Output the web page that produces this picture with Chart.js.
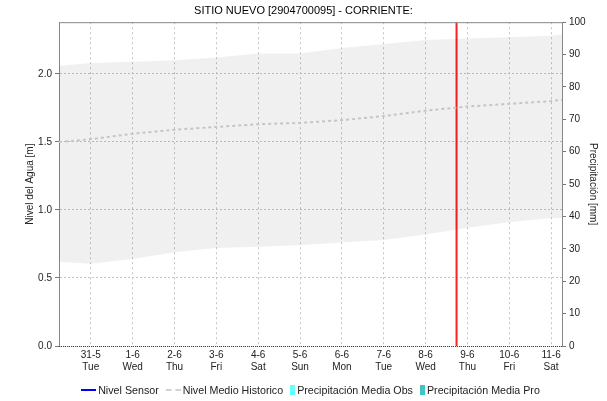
<!DOCTYPE html>
<html>
<head>
<meta charset="utf-8">
<script src="https://cdn.jsdelivr.net/npm/chart.js@4/dist/chart.umd.min.js"></script>
<style>
    body { margin: 0; background: #fff; }
    #wrap { position: relative; width: 607px; height: 401px; }
    #legend {
        position: absolute; left: 0; top: 382px; width: 620px; height: 16px;
        text-align: center; white-space: nowrap;
        font: 10.7px "Liberation Sans", Arial, sans-serif; color: #222; line-height: 16px;
    }
    .item { display: inline-block; margin: 0 3px 0 4px; }
    .mark { display: inline-block; vertical-align: middle; margin-right: 2px; position: relative; top: -1px; }
</style>
</head>
<body>
<div id="wrap">
    <canvas id="chart" width="607" height="401"></canvas>
    <div id="legend"></div>
</div>
<script>
const titleText = "SITIO NUEVO [2904700095] - CORRIENTE:";

// x in days, 0 = 31-5
const dayLabels = ["31-5", "1-6", "2-6", "3-6", "4-6", "5-6", "6-6", "7-6", "8-6", "9-6", "10-6", "11-6"];
const weekDays = ["Tue", "Wed", "Thu", "Fri", "Sat", "Sun", "Mon", "Tue", "Wed", "Thu", "Fri", "Sat"];

const days = [-0.76, 0, 1, 2, 3, 4, 5, 6, 7, 8, 9, 10, 11, 11.26];
const histUpper = [2.06, 2.08, 2.09, 2.10, 2.12, 2.15, 2.15, 2.19, 2.22, 2.25, 2.26, 2.27, 2.28, 2.29];
const histLower = [0.62, 0.605, 0.64, 0.69, 0.72, 0.73, 0.74, 0.76, 0.78, 0.82, 0.87, 0.91, 0.94, 0.94];
const histMean = [1.50, 1.52, 1.56, 1.59, 1.61, 1.63, 1.64, 1.66, 1.69, 1.73, 1.76, 1.78, 1.80, 1.81];

const sensorLevel = [];
const precipObs = [];
const precipPro = [];

const currentDay = 8.74;
const levelMax = 2.38;
const precipMax = 100;

function toPoints(values) {
    return values.map((v, i) => ({ x: days[i], y: v }));
}

const font = "'Liberation Sans', Arial, sans-serif";

// top line of the box and the dotted bottom axis line
const frame = {
    id: "frame",
    afterDatasetsDraw(chart) {
        const { ctx, chartArea } = chart;
        ctx.save();
        ctx.lineWidth = 1;
        ctx.strokeStyle = "#888";
        ctx.beginPath();
        ctx.moveTo(chartArea.left, chartArea.top + 0.5);
        ctx.lineTo(chartArea.right, chartArea.top + 0.5);
        ctx.stroke();
        ctx.strokeStyle = "#444";
        ctx.setLineDash([1, 1]);
        ctx.beginPath();
        ctx.moveTo(chartArea.left, chartArea.bottom + 0.5);
        ctx.lineTo(chartArea.right, chartArea.bottom + 0.5);
        ctx.stroke();
        ctx.restore();
    }
};

const datasets = [
    {
        type: "line", label: "hist-low", data: toPoints(histLower), yAxisID: "y",
        borderWidth: 0, pointRadius: 0, fill: false, borderColor: "rgba(0,0,0,0)"
    },
    {
        type: "line", label: "hist-high", data: toPoints(histUpper), yAxisID: "y",
        borderWidth: 0, pointRadius: 0, fill: "-1", borderColor: "rgba(0,0,0,0)",
        backgroundColor: "rgba(0,0,0,0.06)"
    },
    {
        type: "line", label: "Nivel Sensor", data: sensorLevel, yAxisID: "y",
        borderColor: "#0000ff", borderWidth: 1.5, pointRadius: 0,
        legendMark: { w: 15, h: 2, color: "#0000ff" }
    },
    {
        type: "line", label: "Nivel Medio Historico", data: toPoints(histMean), yAxisID: "y",
        borderColor: "#d2d2d2", borderWidth: 2, borderDash: [3, 3], pointRadius: 0, fill: false,
        legendMark: { w: 15, h: 2, color: "#d2d2d2", dashed: true }
    },
    {
        type: "bar", label: "Precipitación Media Obs", data: precipObs, yAxisID: "y1",
        backgroundColor: "#66ffff",
        legendMark: { w: 5, h: 10, color: "#66ffff" }
    },
    {
        type: "bar", label: "Precipitación Media Pro", data: precipPro, yAxisID: "y1",
        backgroundColor: "#40c4c4",
        legendMark: { w: 5, h: 10, color: "#40c4c4" }
    },
    {
        type: "line", label: "now", data: [{ x: currentDay, y: 0 }, { x: currentDay, y: levelMax }],
        yAxisID: "y", borderColor: "#ff2020", borderWidth: 2, pointRadius: 0
    },
    {
        type: "line", label: "now-dash", data: [{ x: currentDay, y: 0 }, { x: currentDay, y: levelMax }],
        yAxisID: "y", borderColor: "#b00000", borderWidth: 1, borderDash: [2, 3], pointRadius: 0
    }
];

const chart = new Chart(document.getElementById("chart"), {
    data: { datasets: datasets },
    options: {
        responsive: false,
        animation: false,
        layout: { padding: { left: 0, right: 0, top: 0, bottom: 30 } },
        plugins: {
            legend: { display: false },
            tooltip: { enabled: false },
            title: {
                display: true,
                text: titleText,
                color: "#000",
                font: { family: font, size: 11, weight: "normal" },
                padding: { top: 4, bottom: 5 }
            }
        },
        scales: {
            x: {
                type: "linear",
                offset: false,
                min: days[0],
                max: days[days.length - 1],
                afterFit: scale => { scale.height = 25; },
                afterBuildTicks: scale => {
                    scale.ticks = dayLabels.map((_, i) => ({ value: i }));
                },
                ticks: {
                    autoSkip: false,
                    maxRotation: 0,
                    padding: 3,
                    color: "#222",
                    font: { family: font, size: 10 },
                    callback: value => [dayLabels[value], weekDays[value]]
                },
                grid: {
                    offset: false,
                    color: "#c4c4c4",
                    tickLength: 0
                },
                border: { display: false, dash: [2, 3] }
            },
            y: {
                position: "left",
                min: 0,
                max: levelMax,
                afterFit: scale => { scale.width = 59; },
                ticks: {
                    stepSize: 0.5,
                    includeBounds: false,
                    padding: 3,
                    color: "#222",
                    font: { family: font, size: 10 },
                    callback: value => value.toFixed(1)
                },
                grid: {
                    color: "#c4c4c4",
                    tickLength: 4,
                    tickColor: "#777",
                    tickBorderDash: []
                },
                border: { color: "#888", dash: [2, 2] },
                title: {
                    display: true,
                    text: "Nivel del Agua [m]",
                    color: "#222",
                    font: { family: font, size: 10 },
                    padding: { top: 24, bottom: 0 }
                }
            },
            y1: {
                position: "right",
                min: 0,
                max: precipMax,
                afterFit: scale => { scale.width = 45; },
                ticks: {
                    stepSize: 10,
                    padding: 3,
                    color: "#222",
                    font: { family: font, size: 10 }
                },
                grid: {
                    drawOnChartArea: false,
                    tickLength: 4,
                    tickColor: "#777"
                },
                border: { color: "#888" },
                title: {
                    display: true,
                    text: "Precipitación [mm]",
                    color: "#222",
                    font: { family: font, size: 10 },
                    padding: { top: 8, bottom: 0 }
                }
            }
        }
    },
    plugins: [frame]
});

function buildLegend(chart) {
    const box = document.getElementById("legend");
    chart.data.datasets.filter(ds => ds.legendMark).forEach(ds => {
        const m = ds.legendMark;
        const item = document.createElement("span");
        item.className = "item";
        const mark = document.createElement("span");
        mark.className = "mark";
        mark.style.width = m.w + "px";
        if (m.dashed) {
            mark.style.height = "0";
            mark.style.borderTop = m.h + "px dashed " + m.color;
        } else {
            mark.style.height = m.h + "px";
            mark.style.background = m.color;
        }
        item.appendChild(mark);
        item.appendChild(document.createTextNode(ds.label));
        box.appendChild(item);
    });
}

buildLegend(chart);
</script>
</body>
</html>
